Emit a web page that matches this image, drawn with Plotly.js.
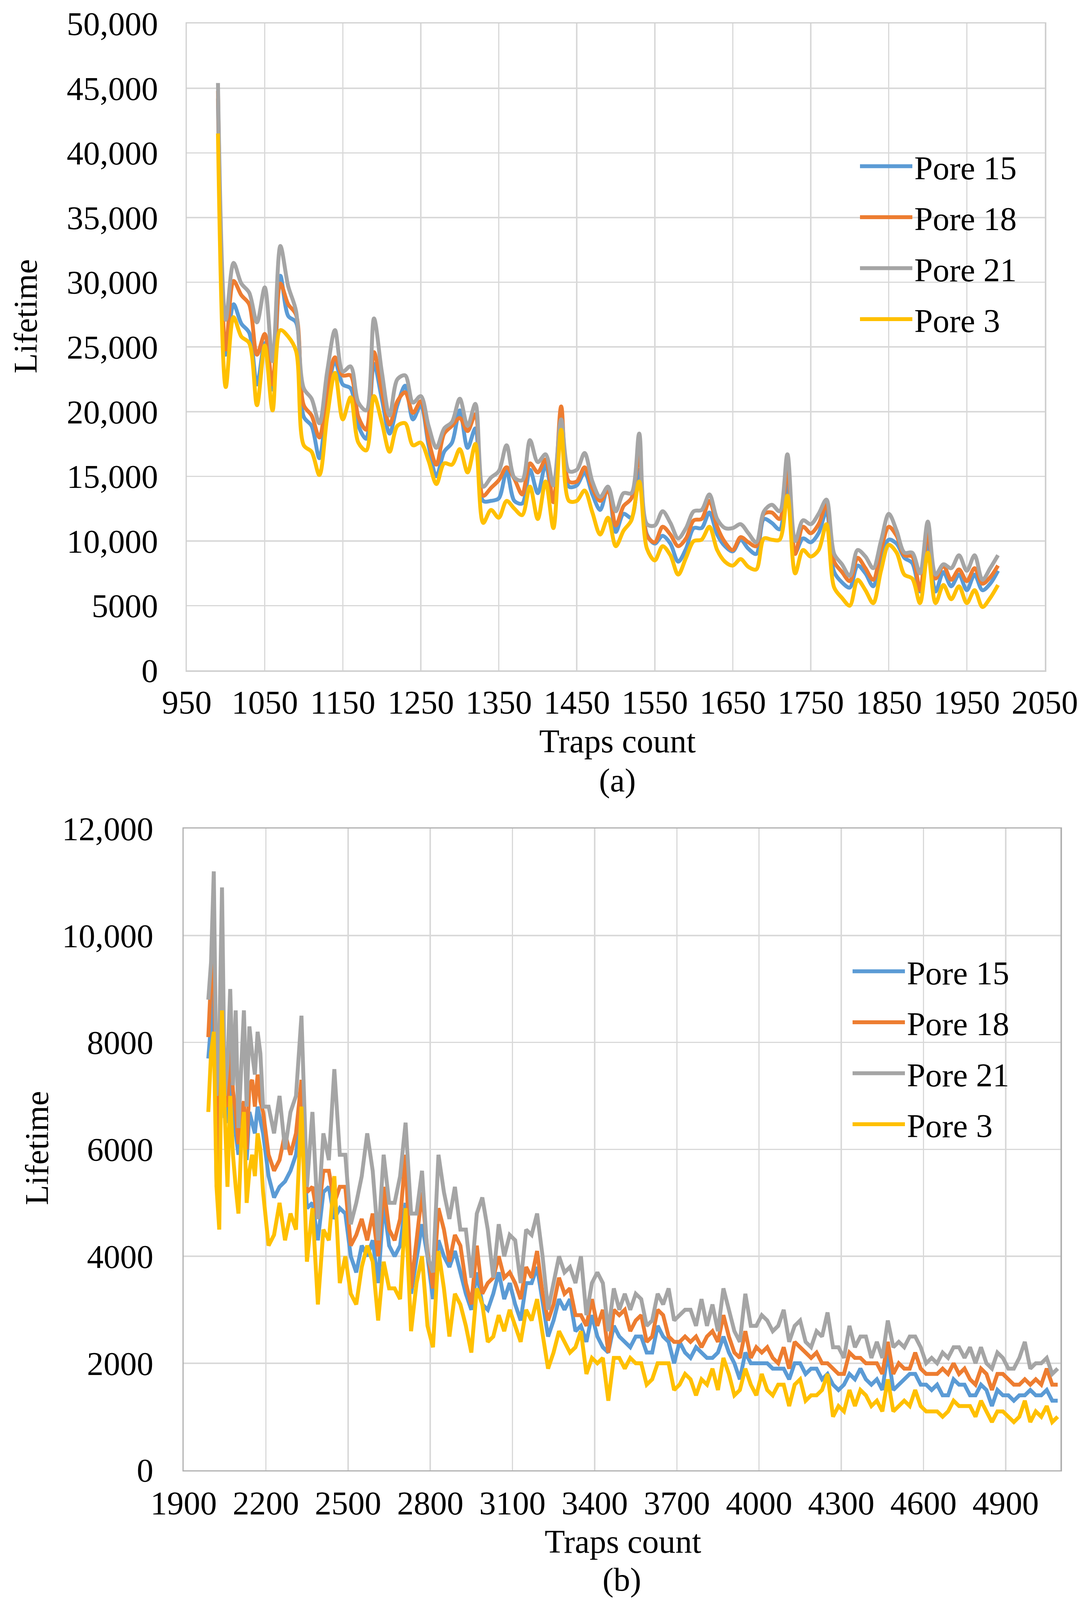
<!DOCTYPE html>
<html>
<head>
<meta charset="utf-8">
<script src="https://cdn.plot.ly/plotly-3.0.1.min.js"></script>
<style>html,body{margin:0;padding:0;background:#fff;overflow:hidden;}</style>
</head>
<body>
<div id="chart"></div>
<script>
// ---------- Chart (a) data ----------
const trapsA = [990,1000,1010,1020,1030,1040,1050,1060,1070,1080,1090,1100,1110,1120,1130,1140,1150,1160,1170,1180,1190,1200,1210,1220,1230,1240,1250,1260,1270,1280,1290,1300,1310,1320,1330,1340,1350,1360,1370,1380,1390,1400,1410,1420,1430,1440,1450,1460,1470,1480,1490,1500,1510,1520,1530,1540,1550,1560,1570,1580,1590,1600,1610,1620,1630,1640,1650,1660,1670,1680,1690,1700,1710,1720,1730,1740,1750,1760,1770,1780,1790,1800,1810,1820,1830,1840,1850,1860,1870,1880,1890,1900,1910,1920,1930,1940,1950,1960,1970,1980,1990];
const pore15A = [44200,24400,28300,26800,26100,22100,25300,21700,30500,27400,26900,19600,18900,16400,21000,23900,22100,21800,18900,17900,23700,21000,18300,20500,22000,19400,20500,17400,15000,16900,17600,20100,17200,18700,13100,13100,13300,15400,13100,12900,15500,13700,15900,13000,18900,14200,14300,15300,13600,12400,14200,10700,12100,11800,15500,10500,9800,10400,9800,8400,9400,11000,11000,12200,10500,9600,9200,10100,9400,9000,11700,11400,10900,14500,9100,10200,9900,10600,12300,7600,6800,6400,8100,7500,6500,8800,10100,9800,8700,8300,6100,9700,6100,7600,6500,7400,6200,7400,6200,6700,7700];
const pore18A = [44800,24800,30100,29000,28300,24400,26000,22100,29900,28300,27500,20500,19700,18000,21700,24200,22800,22800,19600,18600,24600,21600,19000,20800,21500,19900,20800,17800,15900,18300,18900,19500,18500,19800,13500,14100,14700,15700,14800,13600,16000,15300,16300,13000,20400,14600,14600,15700,14100,13100,13900,11200,12700,13300,16600,10400,9900,11100,10500,9600,10200,11600,11700,13100,11100,9900,9300,10300,9900,9600,12100,12200,11700,15500,9000,11100,10600,11300,12800,8400,7600,6900,8700,7900,7000,9300,11100,10400,8900,8800,6200,10600,7100,8100,7000,7800,6900,7900,6700,7200,8100];
const pore21A = [45400,27100,31500,29900,29200,26900,29600,23900,32800,29700,27800,21800,21000,19100,23100,26300,23100,23500,20700,20100,27200,23100,19700,22500,22800,20700,21200,18900,17200,18700,19200,21000,18900,20600,14200,14900,15400,17400,14900,14700,17800,16100,16700,14300,19400,15400,15500,16800,14600,13400,14200,12300,13700,13700,18300,11300,11200,12300,11400,10200,11000,12300,12400,13600,11700,11000,11000,11300,10600,9900,12300,12800,12300,16700,10000,11600,11300,12100,13200,9000,8200,7300,9300,8800,7900,10000,12100,10800,9100,9100,7500,11500,7400,8200,7900,8900,7700,8900,7000,7900,8900];
const pore3A  = [41500,21900,27300,25800,25300,20500,25100,20100,26300,25800,24700,17400,16900,15100,19600,23000,19400,21100,17600,17000,21200,19200,16900,18900,19100,17400,17600,16200,14400,16000,15900,17100,15300,17500,11400,12400,11800,13100,12500,12000,14200,11700,14600,11000,18600,13100,13100,13900,12200,10500,11800,9600,10800,11600,14600,9400,8500,9600,8900,7400,8700,10000,10100,11100,9300,8400,8100,8600,8000,7800,10200,10100,10100,13500,7500,9300,8800,9300,11300,6400,5600,5000,7000,6200,5200,7700,9700,9100,7400,7100,5200,9100,5200,6600,5500,6500,5200,6200,4900,5600,6600];
const yTickValsA = [0,5000,10000,15000,20000,25000,30000,35000,40000,45000,50000];
const yTickTextA = ["0","5000","10,000","15,000","20,000","25,000","30,000","35,000","40,000","45,000","50,000"];

// ---------- Chart (b) data ----------
const trapsB = [1990,2000,2010,2020,2030,2040,2050,2060,2070,2080,2090,2100,2110,2120,2130,2140,2150,2160,2170,2180,2190,
2210,2230,2250,2270,2290,2310,2330,2350,2370,2390,2410,2430,2450,2470,2490,2510,2530,2550,2570,2590,2610,2630,2650,2670,2690,2710,2730,2750,2770,2790,2810,2830,2850,2870,2890,2910,2930,2950,2970,2990,3010,3030,3050,3070,3090,3110,3130,3150,3170,3190,3210,3230,3250,3270,3290,3310,3330,3350,3370,3390,3410,3430,3450,3470,3490,3510,3530,3550,3570,3590,3610,3630,3650,3670,3690,3710,3730,3750,3770,3790,3810,3830,3850,3870,3890,3910,3930,3950,3970,3990,4010,4030,4050,4070,4090,4110,4130,4150,4170,4190,4210,4230,4250,4270,4290,4310,4330,4350,4370,4390,4410,4430,4450,4470,4490,4510,4530,4550,4570,4590,4610,4630,4650,4670,4690,4710,4730,4750,4770,4790,4810,4830,4850,4870,4890,4910,4930,4950,4970,4990,5010,5030,5050,5070,5090];
const pore15B = [7700,8300,9000,5300,6900,8700,6600,6500,7700,6800,6300,5900,6300,6600,5800,6700,6500,6300,6800,6500,6300,
5500,5100,5300,5400,5600,5900,6800,4900,5000,4300,5200,5300,4700,4900,4800,4000,3700,4200,4000,4300,3500,5000,4200,4000,4200,5000,3300,3900,4600,4000,3200,4300,4000,3800,4100,3700,3300,3000,3700,3100,3000,3300,3700,3200,3500,3100,2800,3500,3500,3800,3200,2500,2800,3200,3000,3200,2600,2700,2400,2900,2500,2300,2200,2700,2500,2400,2300,2500,2500,2200,2200,2700,2500,2400,2000,2400,2200,2100,2300,2200,2100,2100,2200,2500,2200,2000,1700,2200,2000,2000,2000,2000,1900,1900,1900,1700,2000,2000,1800,1900,1900,1700,1800,1600,1500,1600,1800,1700,1900,1700,1600,1700,1500,2200,1500,1600,1700,1800,1800,1600,1600,1500,1600,1400,1400,1700,1600,1600,1400,1400,1600,1500,1200,1500,1400,1400,1300,1400,1400,1500,1400,1400,1500,1300,1300];
const pore18B = [8100,9200,9900,5600,7200,9200,6900,6800,8100,7100,6700,6100,6700,6900,6000,7200,7300,6800,7400,6900,6700,
5900,5600,5800,6300,5900,6300,7300,5200,5300,4700,5600,5600,5000,5300,5300,4200,4400,4700,4300,4800,4000,5300,4500,4300,4700,5900,3400,4300,5200,4100,3400,4900,4500,3900,4400,4200,3500,3100,4200,3300,3500,3600,4000,3600,3700,3500,3200,3800,3600,4100,3300,2800,3100,3600,3300,3400,2900,2900,2700,3200,2700,3000,2200,3000,2900,3000,2600,2800,2900,2400,2500,3000,2900,2500,2400,2400,2500,2400,2500,2300,2500,2600,2400,2900,2500,2200,2100,2600,2100,2300,2200,2300,2100,2000,2300,1900,2400,2300,2200,2100,2200,2000,2000,1900,1800,1800,2200,2100,2100,2000,2000,2000,1800,2400,1800,2000,1900,1900,2200,1900,1800,1800,1800,1900,1800,2000,1800,1900,1700,1600,1900,1800,1500,1800,1800,1700,1600,1600,1700,1600,1700,1600,1900,1600,1600];
const pore21B = [8800,9500,11200,7000,8000,10900,7000,7600,9000,7200,8600,6400,7500,8600,6800,8300,7800,7400,8200,7800,6800,
6800,6300,7000,6000,6700,7000,8500,5300,6700,4700,6300,5800,7500,5900,5900,4600,5000,5500,6300,5600,4300,5900,5000,5000,5500,6500,4800,4800,5600,4000,3700,5900,5200,4700,5300,4500,4500,3600,4800,5100,4500,3600,4600,4000,4400,4300,3500,4500,4400,4800,4000,3000,3500,4000,3700,3800,3500,4000,2900,3500,3700,3500,2600,3400,3000,3300,3000,3300,3200,2700,2800,3300,3100,3400,2800,2900,3000,3000,2700,3200,2700,3100,2600,3400,3000,2600,2400,3300,2700,2700,2900,2800,2600,2700,3000,2400,2700,2800,2400,2300,2600,2500,2950,2300,2300,2100,2700,2300,2500,2500,2100,2400,2100,2800,2300,2400,2300,2500,2500,2300,2000,2100,2000,2200,2100,2300,2300,2100,2300,2000,2300,2000,1900,2200,2100,1900,1900,2100,2400,1900,2000,2000,2100,1800,1900];
const pore3B  = [6700,7800,8200,5300,4500,8600,6700,5300,7000,5900,5300,4800,6100,6700,5000,5600,5900,5500,6300,6000,5200,
4200,4400,5000,4300,4800,4500,6800,3900,4900,3100,4500,4300,5500,3500,4000,3300,3100,3800,4200,3900,2800,3900,3400,3400,3200,4900,2600,3500,4000,2700,2300,4100,3400,2500,3300,3100,2700,2200,3400,3100,2400,2500,2900,2600,3000,2700,2400,3000,2800,3200,2500,1900,2200,2600,2400,2200,2300,2600,1800,2100,2000,2100,1300,2100,2100,1900,2100,2000,2000,1600,1700,2000,2000,2000,1500,1600,1800,1700,1400,1700,1600,1900,1500,2100,1800,1400,1500,1900,1600,1400,1800,1500,1400,1600,1600,1200,1600,1700,1300,1400,1400,1500,1800,1000,1200,1100,1500,1200,1500,1400,1200,1300,1100,1700,1100,1200,1300,1200,1500,1200,1100,1100,1100,1000,1100,1300,1200,1200,1200,1000,1300,1100,900,1100,1100,1000,900,1000,1300,900,1100,1000,1200,900,1000];
const yTickValsB = [0,2000,4000,6000,8000,10000,12000];
const yTickTextB = ["0","2000","4000","6000","8000","10,000","12,000"];

const seriesNames = ["Pore 15","Pore 18","Pore 21","Pore 3"];
const seriesColors = ["#5B9BD5","#ED7D31","#A5A5A5","#FFC000"];

const FONT = "Liberation Serif, 'Times New Roman', serif";
const LW = 10;

const traces = [];
[pore15A, pore18A, pore21A, pore3A].forEach((ys, i) => {
  traces.push({
    x: trapsA, y: ys, type: 'scatter', mode: 'lines', name: seriesNames[i],
    line: {color: seriesColors[i], width: LW, shape: 'spline', smoothing: 0.9},
    xaxis: 'x', yaxis: 'y', legend: 'legend', legendgroup: 'a' + i
  });
});
[pore15B, pore18B, pore21B, pore3B].forEach((ys, i) => {
  traces.push({
    x: trapsB, y: ys, type: 'scatter', mode: 'lines', name: seriesNames[i],
    line: {color: seriesColors[i], width: LW, shape: 'linear'},
    xaxis: 'x2', yaxis: 'y2', legend: 'legend2', legendgroup: 'b' + i
  });
});

// Reference canvas is 2782 x 4561; the actual viewport may be shorter,
// so positions are expressed as fractions of the reference canvas.
const W = 2782, HREF = 4561;
const H = Math.min(window.innerHeight || HREF, HREF);
const k = H / HREF;
function px2x(p) { return p / W; }
function px2y(p) { return 1 - p / HREF; }

const gridC = '#D9D9D9';
const FS = 85;
const txtFont = {family: FONT, size: FS, color: '#000'};

function note(text, xp, yp, angle) {
  return {text: text, xref: 'paper', yref: 'paper', x: px2x(xp), y: px2y(yp), showarrow: false,
          xanchor: 'center', yanchor: 'middle', textangle: angle || 0, font: txtFont};
}

const layout = {
  width: W, height: H,
  margin: {l: 0, r: 0, t: 0, b: 0},
  paper_bgcolor: '#fff', plot_bgcolor: '#fff',
  font: txtFont,
  showlegend: true,
  xaxis: {
    domain: [px2x(478), px2x(2674)], anchor: 'y',
    range: [950, 2050], tickmode: 'linear', tick0: 950, dtick: 100,
    showgrid: true, gridcolor: gridC, gridwidth: 3.5,
    showline: true, linecolor: '#D0D0D0', linewidth: 3.5, mirror: true,
    zeroline: false, ticks: '', tickfont: txtFont, ticklabelstandoff: 5
  },
  yaxis: {
    domain: [px2y(1911), px2y(67)], anchor: 'x',
    range: [0, 50000], tickmode: 'array', tickvals: yTickValsA, ticktext: yTickTextA,
    showgrid: true, gridcolor: gridC, gridwidth: 3.5,
    showline: true, linecolor: '#D0D0D0', linewidth: 3.5, mirror: true,
    zeroline: false, ticks: '', tickfont: txtFont, ticklabelstandoff: 53
  },
  xaxis2: {
    domain: [px2x(470), px2x(2714)], anchor: 'y2',
    range: [1900, 5100], tickmode: 'linear', tick0: 1900, dtick: 300,
    showgrid: true, gridcolor: gridC, gridwidth: 3.5,
    showline: true, linecolor: '#B0B0B0', linewidth: 3.5, mirror: true,
    zeroline: false, ticks: '', tickfont: txtFont, ticklabelstandoff: 8
  },
  yaxis2: {
    domain: [px2y(4191), px2y(2362)], anchor: 'x2',
    range: [0, 12000], tickmode: 'array', tickvals: yTickValsB, ticktext: yTickTextB,
    showgrid: true, gridcolor: gridC, gridwidth: 3.5,
    showline: true, linecolor: '#B0B0B0', linewidth: 3.5, mirror: true,
    zeroline: false, ticks: '', tickfont: txtFont, ticklabelstandoff: 57
  },
  legend: {
    x: px2x(2196), y: px2y(405), xanchor: 'left', yanchor: 'top',
    bgcolor: 'rgba(0,0,0,0)', borderwidth: 0, font: txtFont,
    itemwidth: 134, tracegroupgap: Math.max(0, Math.round(148 * k - 116)), traceorder: 'grouped'
  },
  legend2: {
    x: px2x(2177), y: px2y(2700), xanchor: 'left', yanchor: 'top',
    bgcolor: 'rgba(0,0,0,0)', borderwidth: 0, font: txtFont,
    itemwidth: 134, tracegroupgap: Math.max(0, Math.round(148 * k - 116)), traceorder: 'grouped'
  },
  annotations: [
    note('Lifetime', 65, 902, -90),
    note('Traps count', 1580, 2112),
    note('(a)', 1580, 2224),
    note('Lifetime', 94, 3273, -90),
    note('Traps count', 1594, 4394),
    note('(b)', 1591, 4502)
  ]
};

Plotly.newPlot('chart', traces, layout, {staticPlot: true, displayModeBar: false});
</script>
</body>
</html>
